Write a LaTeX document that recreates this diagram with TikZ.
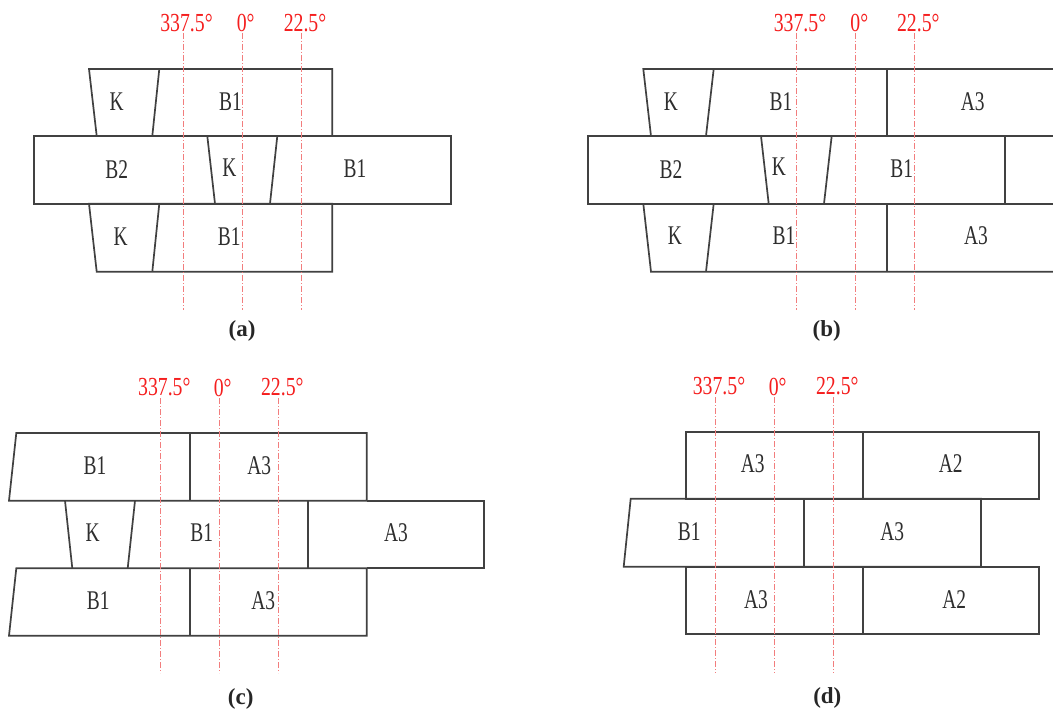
\documentclass[tikz,border=0pt]{standalone}
\usepackage{fontspec}
\setmainfont{Liberation Serif}
\definecolor{blk}{RGB}{65,65,65}
\definecolor{angred}{RGB}{245,30,30}
\definecolor{axred}{RGB}{242,125,125}
\newcommand{\cnd}[1]{\scalebox{0.72}[1]{#1}}
\newcommand{\cnda}[1]{\scalebox{0.76}[1]{#1}}
\tikzset{
  block/.style={draw=blk, line width=1.7pt, line join=miter},
  lbl/.style={inner sep=0pt, font=\fontsize{27}{27}\selectfont, text=black!82},
  ang/.style={inner sep=0pt, font=\fontsize{26}{26}\selectfont, text=angred},
  axis/.style={draw=axred, line width=1pt, dash pattern=on 6pt off 2pt on 1pt off 2pt},
  captxt/.style={inner sep=0pt, font=\fontsize{23}{23}\selectfont\bfseries, text=black!85}
}
\begin{document}
\begin{tikzpicture}[x=1pt,y=-1pt]
\useasboundingbox (0,0) rectangle (1053,709);
\fill[white] (0,0) rectangle (1053,709);

% ================= (a) =================
\draw[block] (89,69) -- (332.3,69) -- (332.3,136) -- (96.7,136) -- cycle;
\draw[block] (159.3,69) -- (152.3,136);
\draw[block] (34,136) rectangle (450.7,203.7);
\draw[block] (207.3,136) -- (215,203.7);
\draw[block] (277.3,136) -- (270,203.7);
\draw[block] (89,203.7) -- (332.3,203.7) -- (332.3,271.7) -- (96.7,271.7) -- cycle;
\draw[block] (159.3,203.7) -- (152.3,271.7);

\node[lbl] (a1) at (116.7,101.5) {\cnd{K}};
\node[lbl] (a2) at (230.5,101.5) {\cnd{B1}};
\node[lbl] (a3) at (116.7,170) {\cnd{B2}};
\node[lbl] (a4) at (229.3,168) {\cnd{K}};
\node[lbl] (a5) at (355,169) {\cnd{B1}};
\node[lbl] (a6) at (120.7,237) {\cnd{K}};
\node[lbl] (a7) at (229.3,237) {\cnd{B1}};

\coordinate (aL1) at (183.3,310);
\coordinate (aL2) at (242.3,310);
\coordinate (aL3) at (301,310);
\draw[axis] (183.3,33) -- (aL1);
\draw[axis] (242.3,33) -- (aL2);
\draw[axis] (301,33) -- (aL3);
\node[ang] (aA1) at (186.5,23) {\cnda{337.5°}};
\node[ang] (aA2) at (245.7,23) {\cnda{0°}};
\node[ang] (aA3) at (305,23) {\cnda{22.5°}};
\node[captxt] (capa) at (242,331) {(a)};

% ================= (b) =================
\draw[block] (1053,69) -- (643.3,69) -- (651,136);
\draw[block] (713.7,69) -- (706,136);
\draw[block] (886.7,69) -- (886.7,136);
\draw[block] (1053,136) -- (588,136) -- (588,203.7) -- (1053,203.7);
\draw[block] (761,136) -- (768.7,203.7);
\draw[block] (831.7,136) -- (824,203.7);
\draw[block] (1004.7,136) -- (1004.7,203.7);
\draw[block] (643.3,203.7) -- (651,271.7) -- (1053,271.7);
\draw[block] (713.7,203.7) -- (706,271.7);
\draw[block] (886.7,203.7) -- (886.7,271.7);

\node[lbl] (b1) at (671,101.5) {\cnd{K}};
\node[lbl] (b2) at (781,101.5) {\cnd{B1}};
\node[lbl] (b3) at (972.7,101.5) {\cnd{A3}};
\node[lbl] (b4) at (671,170) {\cnd{B2}};
\node[lbl] (b5) at (779,167) {\cnd{K}};
\node[lbl] (b6) at (901.7,169) {\cnd{B1}};
\node[lbl] (b7) at (675,236) {\cnd{K}};
\node[lbl] (b8) at (784,236) {\cnd{B1}};
\node[lbl] (b9) at (976,236) {\cnd{A3}};

\coordinate (bL1) at (796.7,310);
\coordinate (bL2) at (855.3,310);
\coordinate (bL3) at (914.3,310);
\draw[axis] (796.7,33) -- (bL1);
\draw[axis] (855.3,33) -- (bL2);
\draw[axis] (914.3,33) -- (bL3);
\node[ang] (bA1) at (800,23) {\cnda{337.5°}};
\node[ang] (bA2) at (859.3,23) {\cnda{0°}};
\node[ang] (bA3) at (918.3,23) {\cnda{22.5°}};
\node[captxt] (capb) at (826.7,331) {(b)};

% ================= (c) =================
\draw[block] (16.3,433) -- (366.7,433) -- (366.7,500.7) -- (9,500.7) -- cycle;
\draw[block] (190,433) -- (190,500.7);
\draw[block] (366.7,500.7) -- (484.3,500.7) -- (484.3,568.3) -- (366.7,568.3);
\draw[block] (65,500.7) -- (72.3,568.3);
\draw[block] (135,500.7) -- (127.7,568.3);
\draw[block] (307.7,500.7) -- (307.7,568.3);
\draw[block] (16.3,568.3) -- (366.7,568.3) -- (366.7,635.7) -- (9,635.7) -- cycle;
\draw[block] (190,568.3) -- (190,635.7);

\node[lbl] (c1) at (95,466) {\cnd{B1}};
\node[lbl] (c2) at (259.3,466) {\cnd{A3}};
\node[lbl] (c3) at (92.7,532.7) {\cnd{K}};
\node[lbl] (c4) at (201.7,532.7) {\cnd{B1}};
\node[lbl] (c5) at (396,532.7) {\cnd{A3}};
\node[lbl] (c6) at (98.3,600.7) {\cnd{B1}};
\node[lbl] (c7) at (263.3,600.7) {\cnd{A3}};

\coordinate (cL1) at (160.7,673);
\coordinate (cL2) at (219.7,673);
\coordinate (cL3) at (278.7,673);
\draw[axis] (160.7,398) -- (cL1);
\draw[axis] (219.7,398) -- (cL2);
\draw[axis] (278.7,398) -- (cL3);
\node[ang] (cA1) at (164.3,387.5) {\cnda{337.5°}};
\node[ang] (cA2) at (222.7,387.5) {\cnda{0°}};
\node[ang] (cA3) at (282.3,387.5) {\cnda{22.5°}};
\node[captxt] (capc) at (240.7,699) {(c)};

% ================= (d) =================
\draw[block] (686.3,431.7) rectangle (1039,498.7);
\draw[block] (863,431.7) -- (863,498.7);
\draw[block] (630.7,498.7) -- (981,498.7) -- (981,566.7) -- (623.7,566.7) -- cycle;
\draw[block] (804.3,498.7) -- (804.3,566.7);
\draw[block] (686.3,566.7) rectangle (1039,634.3);
\draw[block] (863,566.7) -- (863,634.3);

\node[lbl] (d1) at (752.7,464) {\cnd{A3}};
\node[lbl] (d2) at (950.7,464) {\cnd{A2}};
\node[lbl] (d3) at (689.3,531.7) {\cnd{B1}};
\node[lbl] (d4) at (892.3,531.7) {\cnd{A3}};
\node[lbl] (d5) at (756,599.3) {\cnd{A3}};
\node[lbl] (d6) at (954.3,599.3) {\cnd{A2}};

\coordinate (dL1) at (715.7,673);
\coordinate (dL2) at (774.3,673);
\coordinate (dL3) at (833.7,673);
\draw[axis] (715.7,397) -- (dL1);
\draw[axis] (774.3,397) -- (dL2);
\draw[axis] (833.7,397) -- (dL3);
\node[ang] (dA1) at (719,386.5) {\cnda{337.5°}};
\node[ang] (dA2) at (777.7,386.5) {\cnda{0°}};
\node[ang] (dA3) at (837.3,386.5) {\cnda{22.5°}};
\node[captxt] (capd) at (827.3,698) {(d)};
\end{tikzpicture}
\end{document}
